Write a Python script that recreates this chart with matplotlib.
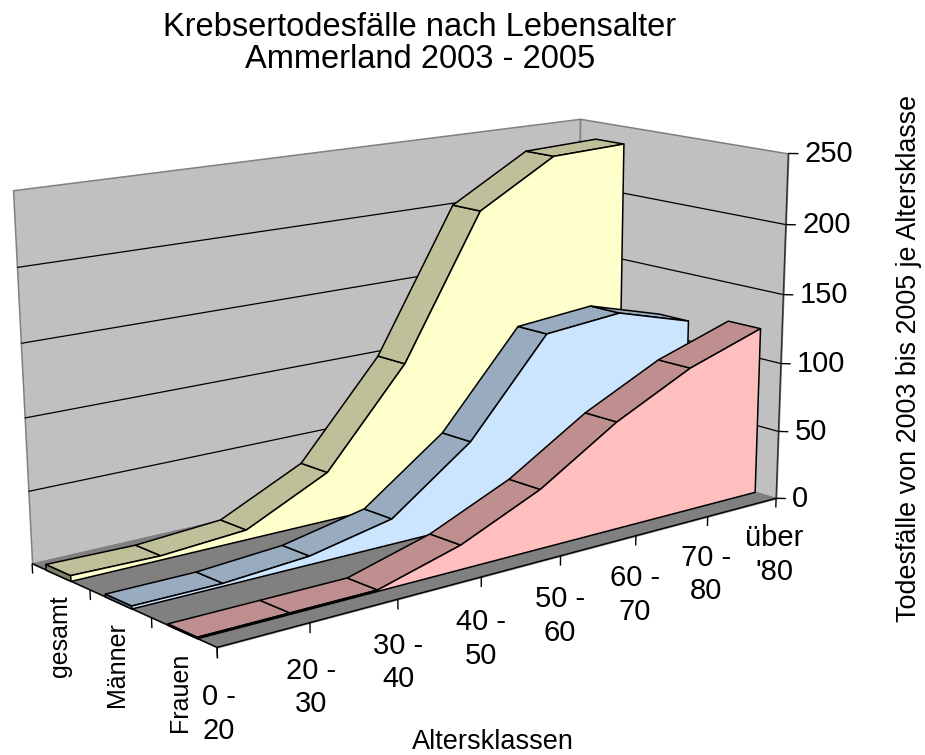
import numpy as np
import matplotlib
matplotlib.use("Agg")
import matplotlib.pyplot as plt
from mpl_toolkits.mplot3d.art3d import Poly3DCollection, Line3DCollection

plt.rcParams['font.family'] = ['Liberation Sans', 'DejaVu Sans']

categories = ["0 -\n20", "20 -\n30", "30 -\n40", "40 -\n50", "50 -\n60", "60 -\n70", "70 -\n80", "über\n'80"]
series_names = ["Frauen", "Männer", "gesamt"]
frauen = [1, 1, 1, 17, 42, 77, 104, 122]
maenner = [2, 2, 6, 18, 60, 126, 131, 115]
gesamt = [4, 3, 7, 35, 102, 203, 235, 237]
z_ticks = [0, 50, 100, 150, 200, 250]

# camera: world (category, depth, value) -> picture pixels
calib = np.array([
    [0, 0, 0, 218, 646], [7, 0, 0, 775, 497], [0, 3, 0, 31, 563], [7, 3, 0, 578, 438],
    [0, 3, 250, 13, 190], [7, 3, 250, 579, 120], [7, 0, 250, 789, 153],
    [0, 3, 100, 25, 418], [7, 0, 100, 782, 362], [2, 0, 0, 398, 598],
    [3, 0, 0, 482, 580], [4, 0, 0, 560, 558], [6, 0, 0, 706, 517],
], dtype=float)
rows, rhs = [], []
for x, y, z, u, v in calib:
    rows.append([x, y, z, 1, 0, 0, 0, 0, -u*x, -u*y, -u*z])
    rhs.append(u)
    rows.append([0, 0, 0, 0, x, y, z, 1, -v*x, -v*y, -v*z])
    rhs.append(v)
sol = np.linalg.lstsq(np.array(rows), np.array(rhs), rcond=None)[0]
P = np.append(sol, 1.0).reshape(3, 4)

W, H = 925, 755
fig = plt.figure(figsize=(W/100, H/100), dpi=100)
ax = fig.add_axes([0, (1 - W/H)/2, 1, W/H], projection='3d')
ax.set_axis_off()
ax.computed_zorder = False

def get_proj():
    flip = np.array([[1, 0, 0], [0, -1, H], [0, 0, 1]], dtype=float)
    T = ax.transData.inverted().get_matrix() @ flip @ P
    return np.array([T[0], T[1], T[2] + np.array([0, 0, 0, 1.0]), T[2]])
ax.get_proj = get_proj

n = 0
def poly(pts, fc, ec='k', lw=1.1):
    global n
    n += 1
    ax.add_collection3d(Poly3DCollection([pts], facecolors=fc, edgecolors=ec, linewidths=lw, zorder=n))

def line(pts, c='k', lw=1.0):
    global n
    n += 1
    ax.add_collection3d(Line3DCollection([pts], colors=c, linewidths=lw, zorder=n))

def label(x, y, z, s, **kw):
    u, v, w = P @ np.array([x, y, z, 1.0])
    fig.text(u/w/W, 1 - v/w/H, s, **kw)

xmax, ymax, zmax = 7, 3, 250
poly([(0, ymax, 0), (xmax, ymax, 0), (xmax, ymax, zmax), (0, ymax, zmax)], '#C0C0C0', '#808080')
poly([(xmax, ymax, 0), (xmax, 0, 0), (xmax, 0, zmax), (xmax, ymax, zmax)], '#C0C0C0', '#808080')
for t in z_ticks[1:-1]:
    line([(0, ymax, t), (xmax, ymax, t), (xmax, 0, t)], lw=0.9)
poly([(0, 0, 0), (xmax, 0, 0), (xmax, ymax, 0), (0, ymax, 0)], '#808080', '#808080')
line([(0, ymax, 0), (0, 0, 0), (xmax, 0, 0)], c='k', lw=1.0)
line([(xmax, 0, 0), (xmax, 0, zmax)], c='#303030')

# back to front
series = [
    (gesamt, 2.33, 2.76, '#FFFFCC', '#BFBF99', '#80806A'),
    (maenner, 1.32, 1.75, '#CCE5FF', '#99ACBF', '#667380'),
    (frauen, 0.30, 0.75, '#FFBFBF', '#BF8F8F', '#806060'),
]
cats = np.arange(len(categories))
for vals, yf, yb, face, top, side in series:
    poly([(0, yf, 0), (0, yb, 0), (0, yb, vals[0]), (0, yf, vals[0])], side)
    for i in range(len(vals) - 1):
        poly([(i, yf, vals[i]), (i, yb, vals[i]), (i+1, yb, vals[i+1]), (i+1, yf, vals[i+1])], top)
    front = [(0, yf, 0)] + [(i, yf, v) for i, v in zip(cats, vals)] + [(cats[-1], yf, 0)]
    poly(front, face)

for i, lab in zip(cats, categories):
    line([(i, 0, 0), (i, 0, -7)])
    label(i, 0, -43, lab, ha='center', va='center', fontsize=21, linespacing=1.26)
for y in range(ymax + 1):
    line([(0, y, 0), (0, y, -7)])
for t in z_ticks:
    line([(xmax, 0, t), (xmax + 0.07, -0.07, t)])
    label(xmax + 0.115, -0.115, t, str(t), ha='left', va='center', fontsize=21)

name_x = [180, 117, 60]
name_y = [692, 665, 636]
for px, py, lab in zip(name_x, name_y, series_names):
    fig.text(px/W, 1 - py/H, lab, ha='center', va='center', rotation=90, fontsize=18)

fig.text(420/W, 1 - 28/H, "Krebsertodesfälle nach Lebensalter", ha='center', va='center', fontsize=23.5)
fig.text(420/W, 1 - 60/H, "Ammerland 2003 - 2005", ha='center', va='center', fontsize=23.5)
fig.text(493/W, 1 - 742/H, "Altersklassen", ha='center', va='center', fontsize=19.5)
fig.text(909/W, 1 - 358/H, "Todesfälle von 2003 bis 2005 je Altersklasse", ha='center', va='center', rotation=90, fontsize=19.4)

fig.savefig("out.png", dpi=100)
